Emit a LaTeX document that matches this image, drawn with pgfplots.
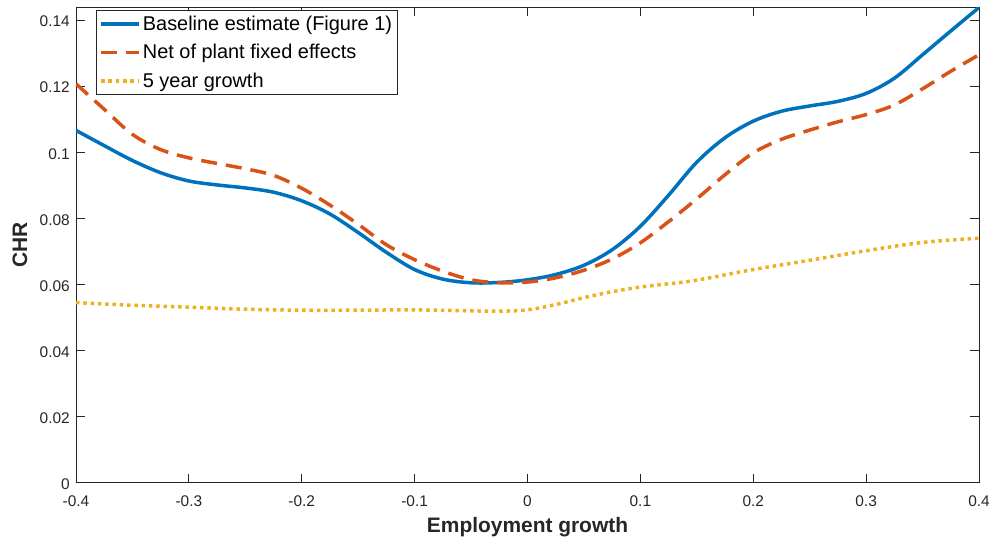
\documentclass[border=0pt]{standalone}
\usepackage{fontspec}
\setmainfont{Liberation Sans}
\usepackage{pgfplots}
\pgfplotsset{compat=1.18}
\definecolor{mblue}{rgb}{0,0.447,0.741}
\definecolor{morange}{rgb}{0.85,0.325,0.098}
\definecolor{myellow}{rgb}{0.929,0.694,0.125}
\definecolor{axgray}{rgb}{0.15,0.15,0.15}
\begin{document}
\begin{tikzpicture}
\useasboundingbox (-76bp,-59.5bp) rectangle (918bp,482.7bp);
\begin{axis}[
  scale only axis, width=903bp, height=475.2bp,
  at={(0,0)}, anchor=south west,
  xmin=-0.4, xmax=0.4, ymin=0, ymax=0.1438,
  axis line style={axgray, line width=0.9bp},
  every tick/.style={axgray, line width=0.9bp},
  tick align=inside, major tick length=9bp,
  xtick={-0.4,-0.3,-0.2,-0.1,0,0.1,0.2,0.3,0.4},
  xticklabels={-0.4,-0.3,-0.2,-0.1,0,0.1,0.2,0.3,0.4},
  ytick={0,0.02,0.04,0.06,0.08,0.1,0.12,0.14},
  yticklabels={0,0.02,0.04,0.06,0.08,0.1,0.12,0.14},
  scaled ticks=false,
  ticklabel style={font=\fontsize{15.5}{18}\selectfont, text=axgray},
  xticklabel style={anchor=north, inner sep=0pt, yshift=-13bp},
  yticklabel style={anchor=east, inner sep=0pt, xshift=-6bp, yshift=-1.5bp},
  xlabel={Employment growth},
  ylabel={CHR},
  label style={font=\fontsize{21}{24}\bfseries\selectfont, text=axgray},
  xlabel style={at={(axis description cs:0.5,-0.0937)}, anchor=center},
  ylabel style={at={(axis description cs:-0.0620,0.5)}, anchor=center, rotate=0},
  legend cell align=left,
  legend style={at={(rel axis cs:0,1)}, anchor=north west, xshift=20bp, yshift=-2.7bp,
    draw=axgray, line width=0.8bp, font=\fontsize{20}{24}\selectfont,
    inner xsep=3bp, inner ysep=3bp, row sep=7.5bp,
    nodes={inner ysep=2.5bp, inner xsep=2bp}},
  legend image code/.code={\draw[#1] (0bp,0bp) -- (38bp,0bp);},
]
\addplot[mblue, line width=3.5bp, smooth, tension=0.55] coordinates {
(-0.400,0.1066) (-0.375,0.1020) (-0.350,0.0975) (-0.325,0.0938) (-0.300,0.0913)
(-0.275,0.0901) (-0.250,0.0892) (-0.225,0.0879) (-0.200,0.0853) (-0.175,0.0813)
(-0.150,0.0757) (-0.125,0.0697) (-0.100,0.0645) (-0.075,0.0616) (-0.050,0.0605)
(-0.025,0.0606) (0.000,0.0614) (0.025,0.0630) (0.050,0.0658) (0.075,0.0705)
(0.100,0.0776) (0.125,0.0870) (0.150,0.0970) (0.175,0.1044) (0.200,0.1094)
(0.225,0.1124) (0.250,0.1140) (0.275,0.1154) (0.300,0.1178) (0.325,0.1224)
(0.350,0.1295) (0.375,0.1367) (0.400,0.1438)
};
\addlegendentry{Baseline estimate (Figure 1)}
\addplot[morange, line width=3.5bp, dash pattern=on 16bp off 9bp, smooth, tension=0.55] coordinates {
(-0.400,0.1207) (-0.375,0.1130) (-0.350,0.1054) (-0.325,0.1008) (-0.300,0.0983)
(-0.275,0.0966) (-0.250,0.0950) (-0.225,0.0930) (-0.200,0.0891) (-0.175,0.0840)
(-0.150,0.0782) (-0.125,0.0720) (-0.100,0.0675) (-0.075,0.0640) (-0.050,0.0614)
(-0.025,0.0605) (0.000,0.0607) (0.025,0.0620) (0.050,0.0643) (0.075,0.0677)
(0.100,0.0726) (0.125,0.0790) (0.150,0.0859) (0.175,0.0932) (0.200,0.0998)
(0.225,0.1039) (0.250,0.1067) (0.275,0.1092) (0.300,0.1114) (0.325,0.1143)
(0.350,0.1192) (0.375,0.1245) (0.400,0.1295)
};
\addlegendentry{Net of plant fixed effects}
\addplot[myellow, line width=3.5bp, dash pattern=on 3.5bp off 3.8bp, smooth, tension=0.55] coordinates {
(-0.400,0.0545) (-0.350,0.0537) (-0.300,0.0531) (-0.250,0.0525) (-0.200,0.0522)
(-0.150,0.0522) (-0.100,0.0523) (-0.050,0.0520) (-0.025,0.0519) (0.000,0.0523)
(0.025,0.0539) (0.050,0.0560) (0.075,0.0578) (0.100,0.0592) (0.125,0.0602)
(0.150,0.0613) (0.200,0.0645) (0.250,0.0673) (0.300,0.0702) (0.350,0.0727)
(0.400,0.0740)
};
\addlegendentry{5 year growth}
\end{axis}
\end{tikzpicture}
\end{document}
